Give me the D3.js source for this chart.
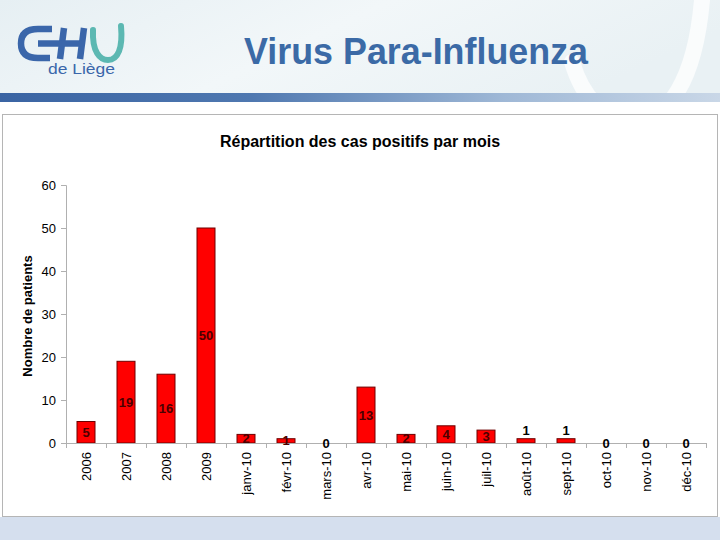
<!DOCTYPE html>
<html><head><meta charset="utf-8">
<script src="https://cdn.jsdelivr.net/npm/d3@7"></script>
<style>html,body{margin:0;padding:0;background:#fff;}svg{display:block;font-family:Arial,"Liberation Sans",sans-serif;}</style>
</head><body>
<script>
const categories = ["2006","2007","2008","2009","janv-10","févr-10","mars-10","avr-10","mai-10","juin-10","juil-10","août-10","sept-10","oct-10","nov-10","déc-10"];
const values = [5,19,16,50,2,1,0,13,2,4,3,1,1,0,0,0];
const labelsAbove = ["août-10","sept-10"];
const yTicks = [0,10,20,30,40,50,60];
const slideTitle = "Virus Para-Influenza";
const chartTitle = "Répartition des cas positifs par mois";
const yAxisTitle = "Nombre de patients";

const W = 720, H = 540;
const svg = d3.select("body").append("svg").attr("width", W).attr("height", H);
const defs = svg.append("defs");

const hg = defs.append("linearGradient").attr("id","hdr").attr("x1","0").attr("x2","1").attr("y1","0").attr("y2","0.3");
hg.append("stop").attr("offset","0").attr("stop-color","#e6eff3");
hg.append("stop").attr("offset","0.5").attr("stop-color","#f2f7f9");
hg.append("stop").attr("offset","1").attr("stop-color","#e9f1f4");

const bg = defs.append("linearGradient").attr("id","bar").attr("x1","0").attr("x2","1");
bg.append("stop").attr("offset","0").attr("stop-color","#3a64a3");
bg.append("stop").attr("offset","0.35").attr("stop-color","#4f78b0");
bg.append("stop").attr("offset","0.7").attr("stop-color","#9fb8d6");
bg.append("stop").attr("offset","1").attr("stop-color","#c9d7e7");

// header background
svg.append("rect").attr("x",0).attr("y",0).attr("width",W).attr("height",102).attr("fill","url(#hdr)");
svg.append("path").attr("d","M 702 0 C 695 80, 668 122, 632 120 C 600 118, 582 95, 572 62")
  .attr("fill","none").attr("stroke","#ffffff").attr("stroke-opacity",0.75).attr("stroke-width",16).attr("stroke-linecap","round");
svg.append("rect").attr("x",0).attr("y",93).attr("width",W).attr("height",9).attr("fill","url(#bar)");
svg.append("rect").attr("x",0).attr("y",102).attr("width",W).attr("height",H-102).attr("fill","#ffffff");
svg.append("rect").attr("x",0).attr("y",517).attr("width",W).attr("height",H-517).attr("fill","#d5dfee");

// logo (drawn shapes + text)
const logo = svg.append("g").attr("fill","none").attr("stroke","#3a66aa").attr("stroke-width",6.5).attr("stroke-linecap","butt");
logo.append("path").attr("d","M 52 29 L 38 29 Q 21 29 21 43.5 Q 21 58 38 58 L 50 58");
logo.append("path").attr("d","M 64 28 L 60 59");
logo.append("path").attr("d","M 84 28 L 80 59");
logo.append("path").attr("d","M 38 43.5 L 82 43.5");
svg.append("path").attr("d","M 93 30 C 92 52, 100 60, 108 60 C 118 60, 123 48, 121 26")
  .attr("fill","none").attr("stroke","#5cb8b2").attr("stroke-width",6).attr("stroke-linecap","round");
svg.append("text").attr("x",48).attr("y",74).attr("font-size",15).attr("fill","#3a66aa")
  .attr("textLength",67).attr("lengthAdjust","spacingAndGlyphs").text("de Liège");

// slide title
svg.append("text").attr("x",244).attr("y",64).attr("font-size",37).attr("font-weight","bold")
  .attr("font-family","'Liberation Sans Narrow','Arial Narrow',Arial,sans-serif")
  .attr("fill","#3b6aa6").attr("textLength",344).attr("lengthAdjust","spacingAndGlyphs").text(slideTitle);

// chart panel
svg.append("rect").attr("x",2.5).attr("y",114.5).attr("width",715).attr("height",402)
  .attr("fill","#ffffff").attr("stroke","#b5b5b5").attr("stroke-width",1);

svg.append("text").attr("x",360).attr("y",147).attr("text-anchor","middle").attr("font-size",16)
  .attr("font-weight","bold").attr("fill","#000").text(chartTitle);

const x = d3.scaleBand().domain(categories).range([66,706]).paddingInner(0.55).paddingOuter(0.275);
const y = d3.scaleLinear().domain([0,60]).range([443,185]);

// y axis
const yAx = svg.append("g").attr("transform","translate(66,0)")
  .call(d3.axisLeft(y).tickValues(yTicks).tickSize(5).tickPadding(5));
yAx.select(".domain").attr("stroke","#b0b0b0");
yAx.selectAll(".tick line").attr("stroke","#b0b0b0");
yAx.selectAll(".tick text").attr("font-size",13).attr("font-family","Arial,'Liberation Sans',sans-serif").attr("fill","#000");

svg.append("text").attr("transform","translate(32,316) rotate(-90)").attr("text-anchor","middle")
  .attr("font-size",13).attr("font-weight","bold").text(yAxisTitle);

// bars
const bw = x.bandwidth(), step = x.step();
svg.append("g").selectAll("rect").data(categories).join("rect")
  .attr("x",d=>x(d)).attr("width",bw)
  .attr("y",(d,i)=>y(values[i])).attr("height",(d,i)=>y(0)-y(values[i]))
  .attr("fill","#ff0000").attr("stroke","#6e0000").attr("stroke-width",1);

// x axis line & ticks at category boundaries
svg.append("line").attr("x1",66).attr("x2",706).attr("y1",y(0)+0.5).attr("y2",y(0)+0.5).attr("stroke","#b0b0b0");
const bounds = categories.map(c=>x(c)+bw/2-step/2).concat([x(categories[categories.length-1])+bw/2+step/2]);
svg.append("g").selectAll("line").data(bounds).join("line")
  .attr("x1",d=>Math.round(d)+0.5).attr("x2",d=>Math.round(d)+0.5).attr("y1",y(0)).attr("y2",y(0)+5).attr("stroke","#b0b0b0");

// x labels
svg.append("g").selectAll("text").data(categories).join("text")
  .attr("transform",d=>`translate(${x(d)+bw/2},452) rotate(-90)`)
  .attr("text-anchor","end").attr("dy","0.35em").attr("font-size",13).attr("fill","#000").text(d=>d);

// value labels
svg.append("g").selectAll("text").data(categories).join("text")
  .attr("x",d=>x(d)+bw/2)
  .attr("y",(d,i)=> labelsAbove.includes(d) ? y(values[i]) - 4 : (y(values[i])+y(0))/2 + 4.5)
  .attr("text-anchor","middle").attr("font-size",13).attr("font-weight","bold")
  .attr("fill",(d,i)=> (values[i]===0 || labelsAbove.includes(d)) ? "#000" : "#4a0000")
  .text((d,i)=>values[i]);
</script>
</body></html>
